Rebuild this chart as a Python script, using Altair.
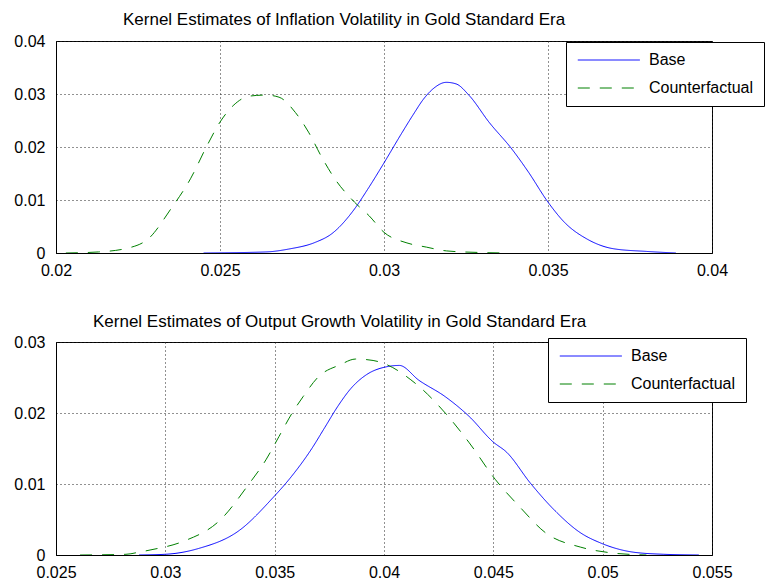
import altair as alt
import pandas as pd

series_names = ["Base", "Counterfactual"]
series_colors = ["#0000ff", "#008000"]

title_top = "Kernel Estimates of Inflation Volatility in Gold Standard Era"
title_bottom = "Kernel Estimates of Output Growth Volatility in Gold Standard Era"

top_x_ticks = [0.02, 0.025, 0.03, 0.035, 0.04]
top_y_ticks = [0, 0.01, 0.02, 0.03, 0.04]
bottom_x_ticks = [0.025, 0.03, 0.035, 0.04, 0.045, 0.05, 0.055]
bottom_y_ticks = [0, 0.01, 0.02, 0.03]

top_base_x = [0.0245, 0.0264, 0.0271, 0.0279, 0.0284, 0.0291, 0.0295, 0.0300, 0.0305,
              0.0309, 0.0312, 0.0315, 0.0319, 0.0322, 0.0326, 0.0332, 0.0339,
              0.0344, 0.0350, 0.0355, 0.0362, 0.0370, 0.0380, 0.0389]
top_base_y = [0.0, 0.0002, 0.00075, 0.0020, 0.0036, 0.0083, 0.0120, 0.0170, 0.0222,
              0.0262, 0.0290, 0.0310, 0.0322, 0.0319, 0.0297, 0.0247, 0.0196,
              0.0153, 0.0096, 0.0058, 0.0026, 0.0008, 0.0003, 0.0]

top_cf_x = [0.0203, 0.0213, 0.0223, 0.0228, 0.0235, 0.0241, 0.0246, 0.0250, 0.0254,
            0.0259, 0.0264, 0.0268, 0.0273, 0.0277, 0.0281, 0.0285, 0.0291, 0.02955,
            0.0300, 0.0307, 0.0313, 0.0319, 0.0329, 0.0338]
top_cf_y = [0.0, 0.0002, 0.0011, 0.0026, 0.0083, 0.0140, 0.0202, 0.0247, 0.0278,
            0.0296, 0.0298, 0.0294, 0.0265, 0.0228, 0.0181, 0.0140, 0.0096, 0.0070,
            0.0039, 0.0019, 0.0011, 0.0004, 0.0001, 0.0]

bottom_base_x = [0.0288, 0.0300, 0.0315, 0.0334, 0.0349, 0.0357, 0.0367, 0.0373, 0.0379,
                 0.0385, 0.0392, 0.0401, 0.0407, 0.0416, 0.0428, 0.0439, 0.0450, 0.0456,
                 0.0467, 0.0478, 0.0490, 0.0499, 0.0514, 0.0528, 0.0544]
bottom_base_y = [0.0, 0.0001, 0.0009, 0.0035, 0.0080, 0.0108, 0.0150, 0.0180, 0.0210,
                 0.0235, 0.0254, 0.0265, 0.0267, 0.0246, 0.0223, 0.0195, 0.0159, 0.0145,
                 0.0101, 0.0063, 0.0031, 0.0017, 0.0004, 0.0001, 0.0]

bottom_cf_x = [0.0261, 0.0282, 0.0288, 0.0293, 0.0308, 0.0325, 0.0338, 0.0346, 0.0352,
               0.0358, 0.0363, 0.0370, 0.0380, 0.0387, 0.0395, 0.0404, 0.0410, 0.0418,
               0.0428, 0.0439, 0.0451, 0.0462, 0.0474, 0.0490, 0.0504, 0.0520]
bottom_cf_y = [0.0, 0.0001, 0.0004, 0.0007, 0.0019, 0.0049, 0.0099, 0.0134, 0.0167,
               0.0200, 0.0223, 0.0251, 0.0268, 0.0276, 0.0274, 0.0264, 0.0252, 0.0232,
               0.0200, 0.0158, 0.0106, 0.0068, 0.0031, 0.0011, 0.0003, 0.0]


def make_df(bx, by, cx, cy):
    return pd.DataFrame({
        "x": bx + cx,
        "y": by + cy,
        "series": ["Base"] * len(bx) + ["Counterfactual"] * len(cx),
    })


FONT = "Liberation Sans"
DASH = [12, 10]


def legend(lx, ly):
    return alt.Legend(
        title=None, orient="none", legendX=lx, legendY=ly,
        fillColor="white", strokeColor="black", padding=10, cornerRadius=0,
        symbolType="M-1,0H9", symbolSize=154, symbolStrokeWidth=1,
        labelFont=FONT, labelFontSize=16, labelColor="black", labelOffset=57,
        rowPadding=12,
    )


def panel(df, title, dx, offset, xdom, xticks, ydom, yticks, lx, ly, height):
    return alt.Chart(
        df,
        title=alt.Title(title, anchor="start", dx=dx, offset=offset, frame="group",
                        font=FONT, fontSize=17, fontWeight="normal", color="black",
                        baseline="alphabetic"),
    ).mark_line(strokeWidth=1, interpolate="monotone", clip=True).encode(
        x=alt.X("x:Q", scale=alt.Scale(domain=xdom, nice=False, zero=False),
                axis=alt.Axis(values=xticks, format="~g", title=None, grid=True,
                              ticks=False, labelFlush=False, labelPadding=9,
                              labelOverlap=False)),
        y=alt.Y("y:Q", scale=alt.Scale(domain=ydom, nice=False),
                axis=alt.Axis(values=yticks, format="~g", title=None, grid=True,
                              ticks=False, labelPadding=11)),
        color=alt.Color("series:N", scale=alt.Scale(domain=series_names, range=series_colors),
                        legend=legend(lx, ly)),
        strokeDash=alt.StrokeDash("series:N",
                                  scale=alt.Scale(domain=series_names, range=[[1, 0], DASH]),
                                  legend=legend(lx, ly)),
    ).properties(width=656, height=height)


top = panel(make_df(top_base_x, top_base_y, top_cf_x, top_cf_y), title_top, 67, -9,
            [0.02, 0.04], top_x_ticks, [0, 0.04], top_y_ticks, 510, 1, 212)
bottom = panel(make_df(bottom_base_x, bottom_base_y, bottom_cf_x, bottom_cf_y), title_bottom, 37, -10,
               [0.025, 0.055], bottom_x_ticks, [0, 0.03], bottom_y_ticks, 492, -4, 213)

chart = alt.vconcat(top, bottom, spacing=33).resolve_scale(
    color="independent", strokeDash="independent", x="independent", y="independent"
).resolve_legend(color="independent", strokeDash="independent").properties(
    padding={"left": 13, "top": 10, "right": 0, "bottom": 0},
    background="white",
).configure_view(stroke="black", strokeWidth=1).configure_axis(
    domainColor="black", labelFont=FONT, labelFontSize=16, labelColor="black",
    gridColor="#222", gridDash=[1, 3], gridWidth=1, gridOpacity=1,
)

chart.save("out.html", embed_options={"renderer": "svg", "actions": False})
